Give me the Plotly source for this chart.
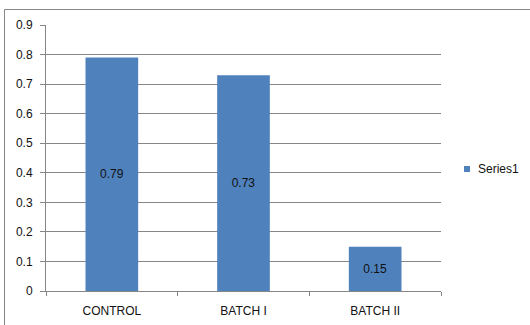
import plotly.graph_objects as go

categories = ["CONTROL", "BATCH I", "BATCH II"]
values = [0.79, 0.73, 0.15]
labels = ["0.79", "0.73", "0.15"]
series_name = "Series1"
y_ticks = [0, 0.1, 0.2, 0.3, 0.4, 0.5, 0.6, 0.7, 0.8, 0.9]
y_ticktext = ["0", "0.1", "0.2", "0.3", "0.4", "0.5", "0.6", "0.7", "0.8", "0.9"]

W, H = 530, 325
L, R, T, B = 46, 441, 25, 291
FONT = "Liberation Sans, Arial, sans-serif"
GRID = "#868686"
BLUE = "#4F81BD"

def px(x):
    return (x - L) / (R - L)

def py(y):
    return (B - y) / (B - T)

fig = go.Figure()
fig.add_trace(go.Bar(
    x=categories, y=values, name=series_name,
    text=labels, textposition="inside", insidetextanchor="middle",
    textfont=dict(family=FONT, size=12, color="#111111"),
    marker=dict(color=BLUE, line=dict(width=0)),
    width=0.4, showlegend=False,
))

fig.update_layout(
    width=W, height=H,
    margin=dict(l=L, r=W - R, t=T, b=H - B, autoexpand=False),
    paper_bgcolor="white", plot_bgcolor="white",
    font=dict(family=FONT, size=12, color="#111111"),
    xaxis=dict(
        showline=True, linecolor=GRID, linewidth=1,
        ticks="outside", tickson="boundaries", ticklen=4, tickcolor=GRID,
        showgrid=False, tickfont=dict(size=12), range=[-0.5, 2.5],
        ticklabelstandoff=9, automargin=False,
    ),
    yaxis=dict(
        range=[0, 0.9], tickvals=y_ticks, ticktext=y_ticktext,
        showline=True, linecolor=GRID, linewidth=1,
        ticks="outside", ticklen=5, tickcolor=GRID,
        showgrid=True, gridcolor=GRID, gridwidth=1,
        zeroline=False, tickfont=dict(size=12),
        ticklabelstandoff=5, automargin=False,
    ),
    bargap=0.6,
)

# chart border (cropped: left and top edges visible)
fig.add_shape(type="line", xref="paper", yref="paper",
              x0=px(4.5), x1=px(560), y0=py(9.5), y1=py(9.5),
              line=dict(color=GRID, width=1))
fig.add_shape(type="line", xref="paper", yref="paper",
              x0=px(4.5), x1=px(4.5), y0=py(9.5), y1=py(340),
              line=dict(color=GRID, width=1))

# legend
fig.add_shape(type="rect", xref="paper", yref="paper",
              x0=px(464), x1=px(470), y0=py(166), y1=py(172),
              fillcolor=BLUE, line=dict(width=0))
fig.add_annotation(xref="paper", yref="paper", x=px(476), y=py(169),
                   text=series_name, showarrow=False, xanchor="left", yanchor="middle",
                   font=dict(family=FONT, size=12, color="#111111"))

fig.write_html("out.html")
